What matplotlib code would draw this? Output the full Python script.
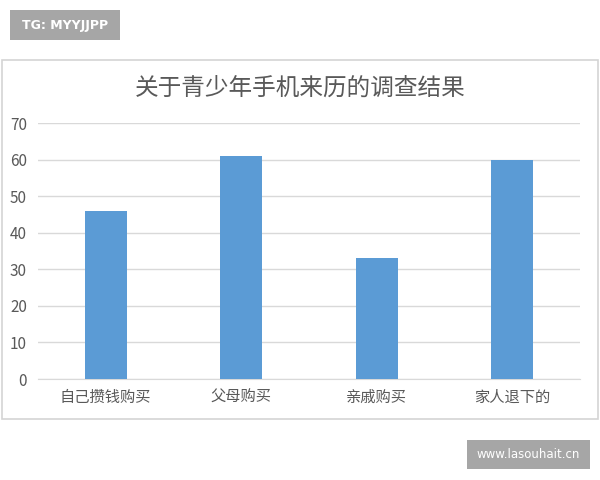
import matplotlib.pyplot as plt
from matplotlib.patches import Rectangle

plt.rcParams['font.family'] = ['Noto Sans CJK SC', 'DejaVu Sans']

# survey data
categories = ["自己攒钱购买", "父母购买", "亲戚购买", "家人退下的"]
values = [46, 61, 33, 60]
title = "关于青少年手机来历的调查结果"

fig = plt.figure(figsize=(6, 4.8), dpi=100)
W, H = 600, 480

def fx(px):
    return px / W

def fy(py):
    return 1 - py / H

# chart frame
fig.patches.append(Rectangle((fx(2), fy(419)), fx(596), 359 / H, transform=fig.transFigure,
                             facecolor="none", edgecolor="#d4d4d4", linewidth=1.2, zorder=0))

# watermark boxes
fig.patches.append(Rectangle((fx(10), fy(40)), fx(110), 30 / H, transform=fig.transFigure,
                             facecolor="#a6a6a6", edgecolor="none"))
fig.text(fx(65), fy(25), "TG: MYYJJPP", color="white", fontsize=9, ha="center", va="center",
         family="DejaVu Sans", fontweight="bold")
fig.patches.append(Rectangle((fx(467), fy(469)), fx(123), 29 / H, transform=fig.transFigure,
                             facecolor="#a6a6a6", edgecolor="none"))
fig.text(fx(528), fy(455), "www.lasouhait.cn", color="white", fontsize=8.5, ha="center",
         va="center", family="DejaVu Sans")

ax = fig.add_axes([fx(38), fy(379), fx(542), 256 / H])
ax.set_facecolor("none")
x = range(len(categories))
ax.bar(x, values, width=0.31, color="#5B9BD5", zorder=3)
ax.set_xlim(-0.5, len(categories) - 0.5)
ax.set_ylim(0, 70)
ax.set_yticks(range(0, 71, 10))
ax.yaxis.grid(True, color="#d9d9d9", linewidth=1)
ax.set_axisbelow(True)
for s in ["top", "right", "left"]:
    ax.spines[s].set_visible(False)
ax.spines["bottom"].set_color("#d9d9d9")
ax.tick_params(axis="both", length=0, colors="#595959", labelsize=11)
ax.tick_params(axis="y", pad=8)
ax.tick_params(axis="x", pad=7)
ax.set_xticks(list(x))
ax.set_xticklabels(categories)

fig.text(0.5, fy(88), title, ha="center", va="center", fontsize=17, color="#595959",
         fontweight="light")

fig.savefig("out.png", dpi=100)
